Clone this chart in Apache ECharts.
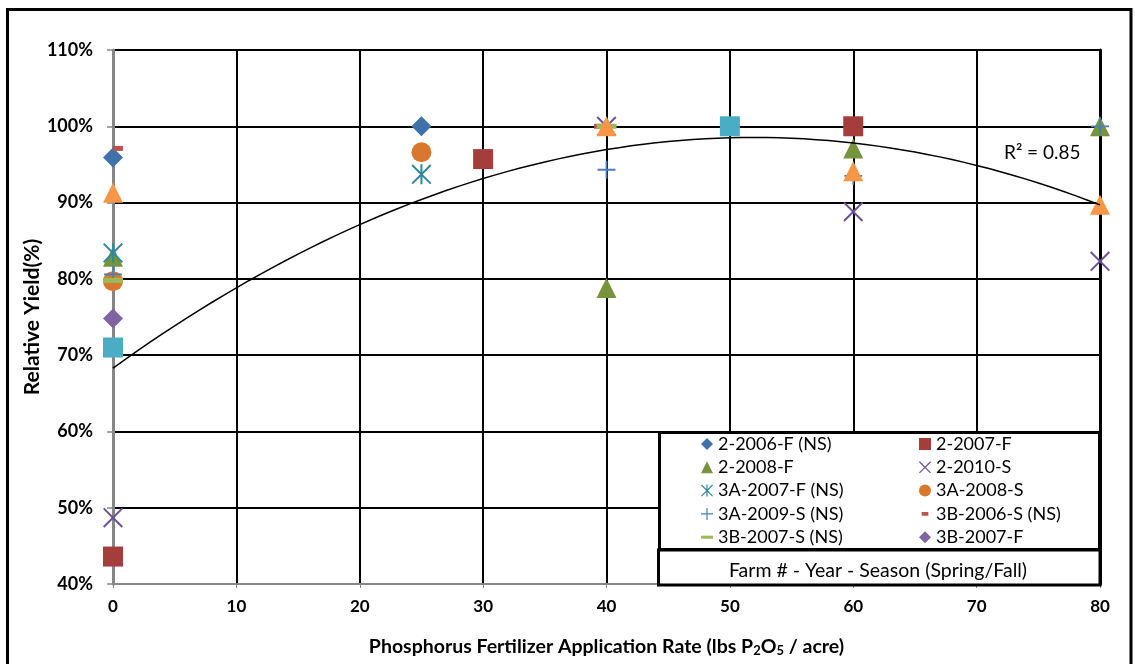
<!DOCTYPE html>
<html>
<head>
<meta charset="utf-8">
<script src="https://cdn.jsdelivr.net/npm/echarts@6/dist/echarts.min.js"></script>
<style>
  html, body { margin: 0; padding: 0; background: #fff; }
  #chart { width: 1135px; height: 664px; }
</style>
</head>
<body>
<div id="chart"></div>
<script>
// P2O5 rate (lbs/acre), relative yield (%) per farm-year-season
const s2006F = [[0, 95.9], [25, 100]];
const s2007F = [[0, 43.6], [30, 95.7], [60, 100]];
const s2008F = [[0, 82.9], [40, 78.8], [60, 97.1], [80, 100]];
const s2010S = [[0, 48.7], [40, 100], [60, 88.8], [80, 82.3]];
const s3A2007F = [[0, 83.4], [25, 93.7]];
const s3A2008S = [[0, 79.7], [25, 96.6]];
const s3A2009S = [[0, 80.6], [40, 94.3], [60, 93.5], [80, 100]];
const s3B2006S = [[0.4, 97.1], [39.4, 100]];
const s3B2007S = [[0, 79.8], [40, 100]];
const s3B2007F = [[0, 74.8]];
const sOrangeTri = [[0, 91.3], [40, 100], [60, 94.1], [80, 89.7]];
const sCyanSq = [[0, 71.0], [50, 100]];

// polynomial trendline (order 2): a + b*x + c*x^2
const trendCoef = [68.3, 1.1648, -0.011217];
const trendXs = [];
for (let x = 0; x <= 80; x += 1) trendXs.push(x);

const xTicks = { min: 0, max: 80, interval: 10 };
const yTicks = { min: 40, max: 110, interval: 10 };

const FONT = 'Lato';
const X_PATH = 'path://M7 0L100 93L93 100L0 7Z M93 0L100 7L7 100L0 93Z';
const STAR_PATH = X_PATH + ' M45 0L55 0L55 100L45 100Z';
const PLUS_PATH = 'path://M45 0L55 0L55 100L45 100Z M0 45L100 45L100 55L0 55Z';
const DASH_PATH = 'path://M0 0L100 0L100 25L0 25Z';
const SHORT_DASH_PATH = 'path://M0 20L0 20Z M22 0L78 0L78 30L22 30Z M100 20L100 20Z';

const scatter = (name, data, symbol, size, color) => ({
  name: name,
  type: 'scatter',
  data: data,
  symbol: symbol,
  symbolSize: size,
  itemStyle: { color: color, opacity: 1 },
  silent: true
});

const chart = echarts.init(document.getElementById('chart'));

const trendData = trendXs.map(x => [x, trendCoef[0] + trendCoef[1] * x + trendCoef[2] * x * x]);

const legendText = { fontFamily: FONT, fontSize: 18, color: '#000', lineHeight: 20 };

chart.setOption({
  backgroundColor: '#fff',
  animation: false,
  grid: { left: 113, right: 35, top: 50, bottom: 80 },
  xAxis: {
    type: 'value',
    min: xTicks.min,
    max: xTicks.max,
    interval: xTicks.interval,
    axisLine: { show: true, onZero: false, lineStyle: { color: '#868686', width: 2 } },
    axisTick: { show: true, length: 4, lineStyle: { color: '#868686' } },
    axisLabel: { fontFamily: FONT, fontWeight: 'bold', fontSize: 17, color: '#000', margin: 14 },
    splitLine: { show: true, lineStyle: { color: '#000', width: 2 } },
    name: '{t|Phosphorus Fertilizer Application Rate (lbs P}{s|2}{t|O}{s|5}{t| / acre)}',
    nameLocation: 'middle',
    nameGap: 51,
    nameMoveOverlap: false,
    nameTextStyle: {
      fontFamily: FONT, fontWeight: 'bold', fontSize: 19.5, color: '#000',
      rich: {
        t: { fontFamily: FONT, fontWeight: 'bold', fontSize: 19.5, color: '#000', lineHeight: 22, verticalAlign: 'bottom' },
        s: { fontFamily: FONT, fontWeight: 'bold', fontSize: 13, color: '#000', lineHeight: 8, verticalAlign: 'bottom' }
      }
    }
  },
  yAxis: [
    {
      type: 'value',
      min: yTicks.min,
      max: yTicks.max,
      interval: yTicks.interval,
      axisLine: { show: true, lineStyle: { color: '#868686', width: 3 } },
      axisTick: { show: true, length: 6, lineStyle: { color: '#868686', width: 1.5 } },
      axisLabel: { formatter: '{value}%', fontFamily: FONT, fontWeight: 'bold', fontSize: 18, color: '#000', margin: 20 },
      splitLine: { show: true, lineStyle: { color: '#000', width: 2 } },
      name: 'Relative Yield(%)',
      nameLocation: 'middle',
      nameGap: 70,
      nameMoveOverlap: false,
      nameTextStyle: { fontFamily: FONT, fontWeight: 'bold', fontSize: 21, color: '#000' }
    },
    {
      type: 'value',
      position: 'right',
      min: yTicks.min,
      max: yTicks.max,
      interval: yTicks.interval,
      axisLine: { show: true, lineStyle: { color: '#000', width: 3 } },
      axisTick: { show: false },
      axisLabel: { show: false },
      splitLine: { show: false }
    }
  ],
  legend: [
    {
      left: 696, top: 429, orient: 'vertical', z: 10,
      itemWidth: 12, itemHeight: 12, itemGap: 3.3, selectedMode: false,
      textStyle: legendText,
      data: [
        { name: '2-2006-F (NS)' },
        { name: '2-2008-F' },
        { name: '3A-2007-F (NS)' },
        { name: '3A-2009-S (NS)' },
        { name: '3B-2007-S (NS)', icon: DASH_PATH }
      ]
    },
    {
      left: 914, top: 429, orient: 'vertical', z: 10,
      itemWidth: 12, itemHeight: 12, itemGap: 3.3, selectedMode: false,
      textStyle: legendText,
      data: [
        { name: '2-2007-F' },
        { name: '2-2010-S' },
        { name: '3A-2008-S' },
        { name: '3B-2006-S (NS)', icon: SHORT_DASH_PATH },
        { name: '3B-2007-F' }
      ]
    }
  ],
  graphic: [
    { type: 'rect', z: 8, shape: { x: 659.5, y: 432.5, width: 440, height: 117 }, style: { fill: '#fff', stroke: '#000', lineWidth: 3 } },
    { type: 'rect', z: 8, shape: { x: 658.5, y: 550, width: 441.5, height: 35 }, style: { fill: '#fff', stroke: '#000', lineWidth: 3 } },
    { type: 'text', z: 11, style: { text: 'Farm # - Year - Season (Spring/Fall)', x: 878, y: 571, textAlign: 'center', textVerticalAlign: 'middle', font: '19.5px Lato', fill: '#000' } },
    { type: 'text', z: 11, style: { text: 'R² = 0.85', x: 1004, y: 153, textAlign: 'left', textVerticalAlign: 'middle', font: '19px Lato', fill: '#000' } },
    { type: 'rect', z: 12, shape: { x: 7.5, y: 9.5, width: 1123.5, height: 700 }, style: { fill: 'none', stroke: '#000', lineWidth: 3 } }
  ],
  series: [
    scatter('2-2006-F (NS)', s2006F, 'diamond', 20, '#4171AA'),
    scatter('2-2007-F', s2007F, 'rect', 20, '#A33E3C'),
    scatter('2-2008-F', s2008F, 'triangle', 20, '#77933C'),
    scatter('2-2010-S', s2010S, X_PATH, 20, '#6B5194'),
    scatter('3A-2007-F (NS)', s3A2007F, STAR_PATH, 20, '#31879E'),
    scatter('3A-2008-S', s3A2008S, 'circle', 20, '#D8782F'),
    scatter('3A-2009-S (NS)', s3A2009S, PLUS_PATH, 18, '#4A7EBB'),
    scatter('3B-2006-S (NS)', s3B2006S, 'rect', [10, 5], '#C0504D'),
    scatter('3B-2007-S (NS)', s3B2007S, 'rect', [20, 5], '#9BBB59'),
    scatter('3B-2007-F', s3B2007F, 'diamond', 20, '#8064A2'),
    scatter('3B-2008-F', sOrangeTri, 'triangle', 20, '#F79646'),
    scatter('3A-2010-S', sCyanSq, 'rect', 20, '#4BACC6'),
    {
      name: 'Poly. trend',
      type: 'line',
      data: trendData,
      showSymbol: false,
      silent: true,
      z: 5,
      lineStyle: { color: '#000', width: 1.5 }
    }
  ]
});
</script>
</body>
</html>
